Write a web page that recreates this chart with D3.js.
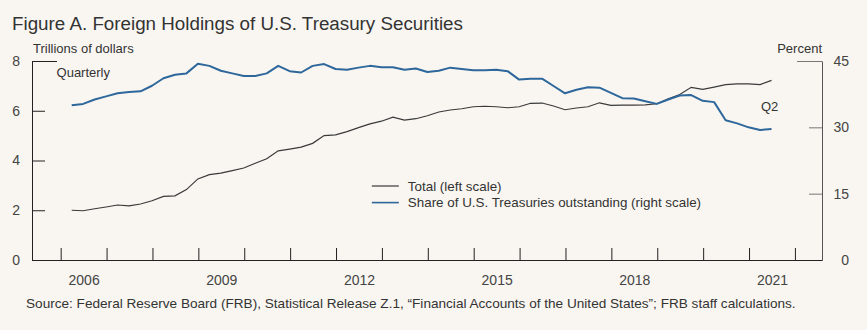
<!DOCTYPE html>
<html>
<head>
<meta charset="utf-8">
<script src="https://cdn.jsdelivr.net/npm/d3@7"></script>
<style>
  html, body { margin: 0; padding: 0; background: #f9f6f1; }
  svg { display: block; font-family: "Liberation Sans", Arial, Helvetica, sans-serif; }
</style>
</head>
<body>
<svg id="chart" width="867" height="330"></svg>
<script>
// Quarterly series, 2006:Q1 through 2021:Q2
const startYear = 2006;

// Foreign holdings, trillions of dollars (left scale)
const totalHoldings = [
  2.00, 1.98, 2.06, 2.13, 2.21, 2.18, 2.25, 2.38, 2.56, 2.58,
  2.83, 3.26, 3.43, 3.49, 3.59, 3.70, 3.89, 4.07, 4.39, 4.46,
  4.54, 4.69, 5.00, 5.03, 5.16, 5.32, 5.47, 5.58, 5.74, 5.62,
  5.68, 5.80, 5.95, 6.03, 6.08, 6.16, 6.18, 6.16, 6.12, 6.16,
  6.30, 6.31, 6.19, 6.04, 6.11, 6.16, 6.32, 6.22, 6.23, 6.23,
  6.24, 6.28, 6.48, 6.65, 6.94, 6.86, 6.95, 7.05, 7.08, 7.08,
  7.05, 7.22
];

// Share of Treasuries outstanding, percent (right scale)
const shareOutstanding = [
  35.0, 35.3, 36.3, 37.0, 37.7, 38.0, 38.15, 39.4, 41.1, 41.9,
  42.2, 44.4, 43.9, 42.8, 42.2, 41.6, 41.6, 42.2, 43.9, 42.7,
  42.4, 43.9, 44.3, 43.2, 43.0, 43.5, 43.9, 43.6, 43.6, 43.0,
  43.3, 42.5, 42.8, 43.5, 43.2, 42.9, 42.9, 43.0, 42.7, 40.8,
  41.0, 41.0, 39.35, 37.7, 38.5, 39.05, 38.97, 37.8, 36.6, 36.5,
  35.9, 35.3, 36.3, 37.2, 37.3, 36.0, 35.7, 31.6, 30.9, 30.0,
  29.4, 29.6
];

const leftTicks = [0, 2, 4, 6, 8];
const rightTicks = [0, 15, 30, 45];
const yearTicks = d3.range(2006, 2023);
const yearLabels = [2006, 2009, 2012, 2015, 2018, 2021];

const legendItems = [
  { label: "Total (left scale)", color: "#3a3a3a", width: 1.2 },
  { label: "Share of U.S. Treasuries outstanding (right scale)", color: "#2e679b", width: 2 }
];

// point dates sit near the end of each quarter
const quarterDate = i => startYear + i / 4 + 0.24;

const svg = d3.select("#chart");
const margin = { top: 61, right: 45, bottom: 70, left: 32 };
const W = +svg.attr("width"), H = +svg.attr("height");
const width = W - margin.left - margin.right;
const height = H - margin.top - margin.bottom;

const x = d3.scaleLinear().domain([2005.375, 2022.59]).range([0, width]);
const yL = d3.scaleLinear().domain([0, 8]).range([height, 0]);
const yR = d3.scaleLinear().domain([0, 45]).range([height, 0]);

// Title
svg.append("text")
  .attr("x", 12).attr("y", 30)
  .attr("font-size", "18.8px")
  .attr("fill", "#333")
  .text("Figure A. Foreign Holdings of U.S. Treasury Securities");

// Unit labels
svg.append("text")
  .attr("x", 33).attr("y", 53)
  .attr("font-size", "13px").attr("fill", "#333")
  .text("Trillions of dollars");
svg.append("text")
  .attr("x", margin.left + width).attr("y", 53)
  .attr("text-anchor", "end")
  .attr("font-size", "13px").attr("fill", "#333")
  .text("Percent");

const g = svg.append("g").attr("transform", `translate(${margin.left},${margin.top})`);

// Left axis, ticks pointing inward
const leftAxis = g.append("g")
  .call(d3.axisLeft(yL).tickValues(leftTicks).tickSizeInner(-13).tickSizeOuter(0).tickPadding(12));
leftAxis.select(".tick:last-of-type line").attr("x2", 25);

// Right axis
const rightAxis = g.append("g")
  .attr("transform", `translate(${width},0)`)
  .call(d3.axisRight(yR).tickValues(rightTicks).tickSizeInner(-13).tickSizeOuter(0));
rightAxis.select(".tick:last-of-type line").attr("x2", -25);
rightAxis.selectAll(".tick text").attr("text-anchor", "end").attr("x", 27);

// Bottom axis: ticks at year boundaries, labels centred in the year
const bottomAxis = g.append("g")
  .attr("transform", `translate(0,${height})`)
  .call(d3.axisBottom(x).tickValues(yearTicks).tickSizeInner(-12).tickSizeOuter(0).tickFormat(""));
const yearAxis = g.append("g")
  .attr("transform", `translate(0,${height})`)
  .call(d3.axisBottom(x).tickValues(yearLabels.map(d => d + 0.5)).tickSize(0).tickPadding(15)
    .tickFormat(d => String(Math.floor(d))));
yearAxis.select(".domain").remove();

[leftAxis, rightAxis, bottomAxis, yearAxis].forEach(a => {
  a.selectAll("text").attr("font-size", "14px").attr("fill", "#444")
    .attr("font-family", "'Liberation Sans', Arial, sans-serif");
});
leftAxis.selectAll("line, path").attr("stroke", "#222");
bottomAxis.selectAll("line, path").attr("stroke", "#222");
rightAxis.selectAll("path").attr("stroke", "#555");
rightAxis.selectAll("line").attr("stroke", "#777");

// Lines
const totalLine = d3.line().x((d, i) => x(quarterDate(i))).y(d => yL(d));
const shareLine = d3.line().x((d, i) => x(quarterDate(i))).y(d => yR(d));

g.append("path")
  .datum(totalHoldings)
  .attr("fill", "none")
  .attr("stroke", legendItems[0].color)
  .attr("stroke-width", legendItems[0].width)
  .attr("d", totalLine);

g.append("path")
  .datum(shareOutstanding)
  .attr("fill", "none")
  .attr("stroke", legendItems[1].color)
  .attr("stroke-width", legendItems[1].width)
  .attr("stroke-linejoin", "round")
  .attr("d", shareLine);

// Annotations
g.append("text")
  .attr("x", x(2005.91)).attr("y", 16)
  .attr("font-size", "13px").attr("fill", "#333")
  .text("Quarterly");
g.append("text")
  .attr("x", x(2021.26)).attr("y", 50)
  .attr("font-size", "13px").attr("fill", "#333")
  .text("Q2");

// Legend
const legend = g.append("g").attr("transform", `translate(${x(2012.78)},${125})`);
legendItems.forEach((item, i) => {
  const row = legend.append("g").attr("transform", `translate(0,${i * 16.6})`);
  row.append("line")
    .attr("x1", 0).attr("x2", 27)
    .attr("stroke", item.color)
    .attr("stroke-width", item.width === 2 ? 1.6 : 1.2);
  row.append("text")
    .attr("x", 36).attr("y", 4.6)
    .attr("font-size", "13.4px").attr("fill", "#333")
    .text(item.label);
});

// Source note
svg.append("text")
  .attr("x", 26).attr("y", 308)
  .attr("font-size", "13.6px").attr("fill", "#333")
  .text("Source: Federal Reserve Board (FRB), Statistical Release Z.1, \u201cFinancial Accounts of the United States\u201d; FRB staff calculations.");
</script>
</body>
</html>
